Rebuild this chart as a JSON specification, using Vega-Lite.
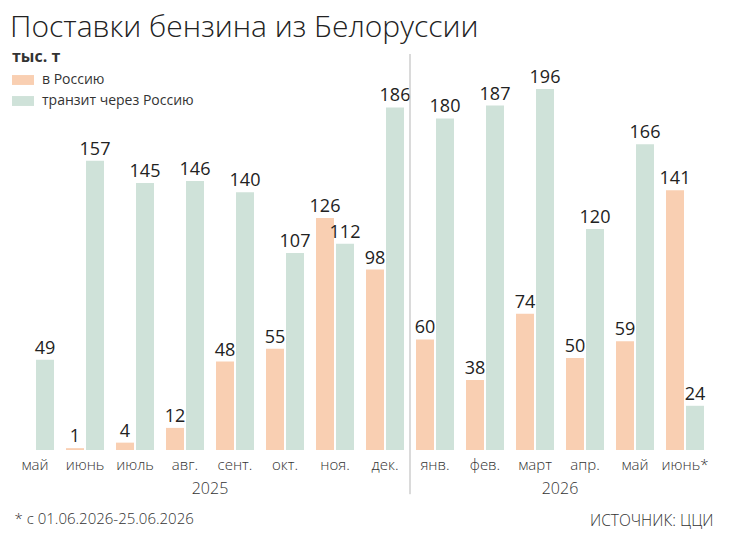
{
  "$schema": "https://vega.github.io/schema/vega-lite/v6.json",
  "width": 700,
  "height": 361,
  "autosize": {"type": "none"},
  "padding": {"left": 10, "right": 19, "top": 89, "bottom": 99},
  "background": "white",
  "config": {
    "view": {"stroke": null},
    "font": "Open Sans",
    "text": {"font": "Open Sans"}
  },
  "title": {
    "text": "Поставки бензина из Белоруссии",
    "anchor": "start",
    "frame": "group",
    "font": "Open Sans",
    "fontSize": 30,
    "fontWeight": 300,
    "color": "#222222",
    "offset": 6
  },
  "data": {
    "values": [
      {"m": "май 2025", "s": "транзит через Россию", "v": 49},
      {"m": "июнь 2025", "s": "в Россию", "v": 1},
      {"m": "июнь 2025", "s": "транзит через Россию", "v": 157},
      {"m": "июль 2025", "s": "в Россию", "v": 4},
      {"m": "июль 2025", "s": "транзит через Россию", "v": 145},
      {"m": "авг. 2025", "s": "в Россию", "v": 12},
      {"m": "авг. 2025", "s": "транзит через Россию", "v": 146},
      {"m": "сент. 2025", "s": "в Россию", "v": 48},
      {"m": "сент. 2025", "s": "транзит через Россию", "v": 140},
      {"m": "окт. 2025", "s": "в Россию", "v": 55},
      {"m": "окт. 2025", "s": "транзит через Россию", "v": 107},
      {"m": "ноя. 2025", "s": "в Россию", "v": 126},
      {"m": "ноя. 2025", "s": "транзит через Россию", "v": 112},
      {"m": "дек. 2025", "s": "в Россию", "v": 98},
      {"m": "дек. 2025", "s": "транзит через Россию", "v": 186},
      {"m": "янв. 2026", "s": "в Россию", "v": 60},
      {"m": "янв. 2026", "s": "транзит через Россию", "v": 180},
      {"m": "фев. 2026", "s": "в Россию", "v": 38},
      {"m": "фев. 2026", "s": "транзит через Россию", "v": 187},
      {"m": "март 2026", "s": "в Россию", "v": 74},
      {"m": "март 2026", "s": "транзит через Россию", "v": 196},
      {"m": "апр. 2026", "s": "в Россию", "v": 50},
      {"m": "апр. 2026", "s": "транзит через Россию", "v": 120},
      {"m": "май 2026", "s": "в Россию", "v": 59},
      {"m": "май 2026", "s": "транзит через Россию", "v": 166},
      {"m": "июнь* 2026", "s": "в Россию", "v": 141},
      {"m": "июнь* 2026", "s": "транзит через Россию", "v": 24}
    ]
  },
  "resolve": {"axis": {"x": "independent", "y": "independent"}},
  "layer": [
    {
      "mark": {"type": "bar"},
      "encoding": {
        "x": {
          "field": "m",
          "type": "nominal",
          "sort": null,
          "scale": {
            "domain": ["май 2025", "июнь 2025", "июль 2025", "авг. 2025", "сент. 2025", "окт. 2025", "ноя. 2025", "дек. 2025", "янв. 2026", "фев. 2026", "март 2026", "апр. 2026", "май 2026", "июнь* 2026"],
            "paddingInner": 0,
            "paddingOuter": 0
          },
          "axis": {
            "orient": "bottom",
            "title": null,
            "domain": false,
            "ticks": false,
            "labelExpr": "split(datum.value, ' ')[0]",
            "labelAngle": 0,
            "labelPadding": 7,
            "labelFont": "Open Sans",
            "labelFontSize": 15,
            "labelFontWeight": 300,
            "labelColor": "#333333"
          }
        },
        "xOffset": {
          "field": "s",
          "type": "nominal",
          "scale": {
            "domain": ["в Россию", "транзит через Россию"],
            "paddingInner": 0.1,
            "paddingOuter": 0.3
          }
        },
        "y": {
          "field": "v",
          "type": "quantitative",
          "scale": {"domain": [0, 196], "nice": false},
          "axis": {
            "orient": "right",
            "domain": false,
            "ticks": false,
            "labels": false,
            "grid": false,
            "title": "ИСТОЧНИК: ЦЦИ",
            "titleAngle": 0,
            "titleAlign": "right",
            "titleBaseline": "alphabetic",
            "titleX": 3,
            "titleY": 436,
            "titleFont": "Open Sans",
            "titleFontSize": 15.5,
            "titleFontWeight": 300,
            "titleColor": "#333333"
          }
        },
        "color": {
          "field": "s",
          "type": "nominal",
          "scale": {
            "domain": ["в Россию", "транзит через Россию"],
            "range": ["#f9cfb2", "#cfe2d9"]
          },
          "legend": {
            "title": "тыс. т",
            "orient": "none",
            "legendX": 2,
            "legendY": -40,
            "padding": 0,
            "titleFont": "Open Sans",
            "titleFontSize": 16,
            "titleFontWeight": "bold",
            "titleColor": "#333333",
            "titlePadding": 4,
            "symbolType": "M-1,-0.45H1V0.45H-1Z",
            "symbolSize": 484,
            "symbolStrokeWidth": 0,
            "symbolOpacity": 1,
            "rowPadding": 3,
            "labelOffset": 8,
            "labelFont": "Open Sans",
            "labelFontSize": 14,
            "labelColor": "#333333"
          }
        }
      }
    },
    {
      "mark": {"type": "text", "baseline": "alphabetic", "dy": -6, "font": "Open Sans", "fontSize": 18, "fontWeight": 500, "color": "#222222"},
      "encoding": {
        "x": {
          "field": "m",
          "type": "nominal",
          "sort": null,
          "axis": {
            "orient": "bottom",
            "domain": false,
            "ticks": false,
            "offset": 26,
            "labelExpr": "datum.value == 'авг. 2025' ? '2025' : (datum.value == 'март 2026' ? '2026' : '')",
            "labelOffset": 25,
            "labelAngle": 0,
            "labelOverlap": false,
            "labelFlush": false,
            "labelPadding": 4,
            "labelFont": "Open Sans",
            "labelFontSize": 16,
            "labelFontWeight": 300,
            "labelColor": "#333333",
            "title": "* с 01.06.2026-25.06.2026",
            "titleAnchor": "start",
            "titleAlign": "left",
            "titleX": 4,
            "titlePadding": 15,
            "titleFont": "Open Sans",
            "titleFontSize": 15,
            "titleFontWeight": 300,
            "titleColor": "#333333"
          }
        },
        "xOffset": {"field": "s", "type": "nominal"},
        "y": {"field": "v", "type": "quantitative", "axis": null},
        "text": {"field": "v", "type": "quantitative"}
      }
    },
    {
      "data": {"values": [{"m": "янв. 2026"}]},
      "mark": {"type": "rule", "color": "#b5b5b5", "strokeWidth": 1},
      "encoding": {
        "x": {"field": "m", "type": "nominal", "bandPosition": 0, "axis": null},
        "y": {"datum": 215, "type": "quantitative", "axis": null},
        "y2": {"datum": -24}
      }
    }
  ]
}
